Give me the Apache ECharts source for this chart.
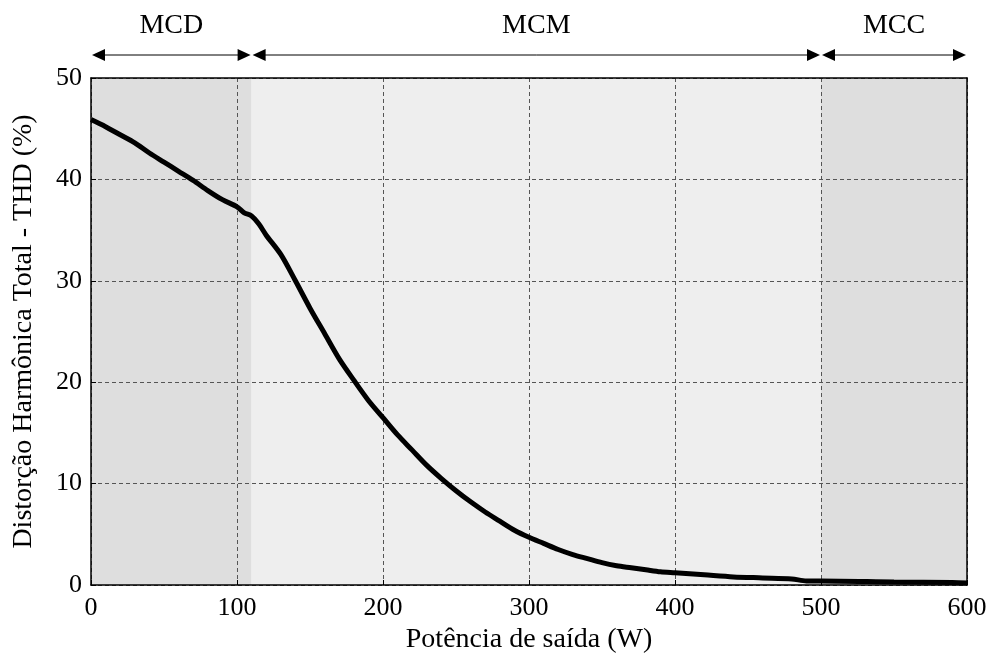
<!DOCTYPE html>
<html><head><meta charset="utf-8">
<script src="https://cdn.jsdelivr.net/npm/echarts@6/dist/echarts.min.js"></script>
<style>html,body{margin:0;padding:0;background:#fff}#c{width:994px;height:661px}</style>
</head><body><div id="c"></div>
<script>
const power = [0,10,20,30,40,50,60,70,80,90,100,105,110,115,120,130,140,150,160,170,180,190,200,210,220,230,240,250,260,270,280,290,300,310,320,330,340,350,360,370,380,390,400,420,440,460,480,490,500,550,590,600];
const thd = [45.9,45.2,44.4,43.6,42.6,41.7,40.8,39.9,38.9,38.0,37.3,36.7,36.4,35.6,34.5,32.6,30.0,27.3,24.8,22.3,20.2,18.2,16.5,14.8,13.3,11.8,10.5,9.3,8.2,7.2,6.3,5.4,4.7,4.1,3.5,3.0,2.6,2.2,1.9,1.7,1.5,1.3,1.2,1.0,0.8,0.7,0.6,0.4,0.4,0.3,0.25,0.2];
const regions = [{name:'MCD', from:0, to:110},{name:'MCM', from:110, to:500},{name:'MCC', from:500, to:600}];
const regionColors = ['#dedede','#eeeeee','#dedede'];
const xTicks = [0,100,200,300,400,500,600];
const yTicks = [0,10,20,30,40,50];

const FONT = '"Liberation Serif", "Times New Roman", serif';
const chart = echarts.init(document.getElementById('c'));
const gridLine = {show:true, lineStyle:{color:'#555', type:[4,3], width:1}};
chart.setOption({
  animation:false,
  backgroundColor:'#fff',
  grid:{left:91, right:27, top:78, bottom:76, show:false},
  xAxis:[{type:'value', min:0, max:600, interval:100, z:3,
    name:'Potência de saída (W)', nameLocation:'middle', nameGap:40,
    nameTextStyle:{fontFamily:FONT, fontSize:28, color:'#000'},
    axisLine:{show:true, lineStyle:{color:'#000', width:1.5}},
    axisTick:{show:true, inside:true, length:5, lineStyle:{color:'#000'}},
    axisLabel:{fontFamily:FONT, fontSize:26, color:'#000', margin:10},
    splitLine:gridLine},
    {type:'value', position:'top', min:0, max:600, interval:100, z:3,
    axisLine:{show:true, onZero:false, lineStyle:{color:'#000', width:1.5}},
    axisTick:{show:false}, axisLabel:{show:false}, splitLine:{show:false}}],
  yAxis:[{type:'value', min:0, max:50, interval:10, z:3,
    name:'Distorção Harmônica Total - THD (%)', nameLocation:'middle', nameGap:53,
    nameTextStyle:{fontFamily:FONT, fontSize:28, color:'#000'},
    axisLine:{show:true, lineStyle:{color:'#000', width:1.5}},
    axisTick:{show:true, inside:true, length:5, lineStyle:{color:'#000'}},
    axisLabel:{fontFamily:FONT, fontSize:26, color:'#000', margin:9},
    splitLine:gridLine},
    {type:'value', position:'right', min:0, max:50, interval:10, z:3,
    axisLine:{show:true, onZero:false, lineStyle:{color:'#000', width:1.5}},
    axisTick:{show:false}, axisLabel:{show:false}, splitLine:{show:false}}],
  series:[{
    type:'line', data:[], z:1,
    markArea:{silent:true, z:1, data:regions.map((r,i)=>[{xAxis:r.from, itemStyle:{color:regionColors[i]}},{xAxis:r.to}])}
  },{
    type:'line', data:power.map((p,i)=>[p,thd[i]]), showSymbol:false, smooth:0.3,
    lineStyle:{color:'#000', width:5}, z:5
  }]
});
// region arrows above plot
const yTop = chart.convertToPixel({gridIndex:0}, [0,50])[1];
const ay = yTop - 23;
const g = [];
regions.forEach(r=>{
  const x1 = chart.convertToPixel({gridIndex:0},[r.from,0])[0];
  const x2 = chart.convertToPixel({gridIndex:0},[r.to,0])[0];
  const a1 = x1 + 1, a2 = x2 - 1;
  g.push({type:'line', shape:{x1:a1+12, y1:ay, x2:a2-12, y2:ay}, style:{stroke:'#000', lineWidth:1}});
  g.push({type:'polygon', shape:{points:[[a1,ay],[a1+13,ay-6],[a1+13,ay+6]]}, style:{fill:'#000'}});
  g.push({type:'polygon', shape:{points:[[a2,ay],[a2-13,ay-6],[a2-13,ay+6]]}, style:{fill:'#000'}});
  g.push({type:'text', x:(x1+x2)/2, y:ay-29, style:{text:r.name, font:'28px '+FONT, fill:'#000', align:'center', verticalAlign:'middle'}});
});
chart.setOption({graphic:g});
</script></body></html>
